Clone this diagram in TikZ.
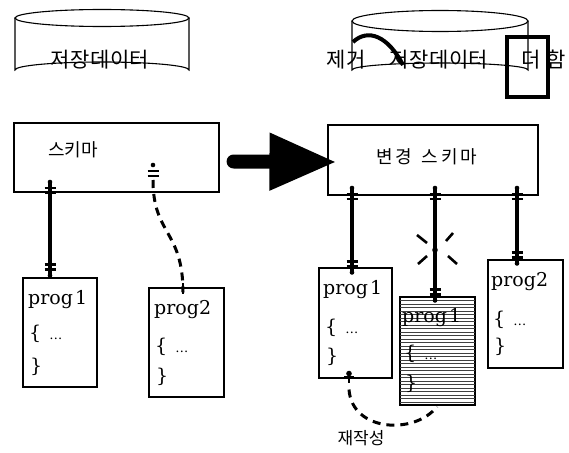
\documentclass[tikz,border=0pt]{standalone}
\usepackage{fontspec}
\setmainfont{DejaVu Serif}
\newfontfamily\kr{Noto Sans CJK KR}
\usetikzlibrary{calc,arrows.meta}
\newcommand\ConnMark[2]{%
  \fill (#1) circle (2.3pt);
  \draw[line width=2.2pt] ($(#1)+(-5.5,#2*6)$) -- ++(11,0);
  \draw[line width=2.2pt] ($(#1)+(-5.5,#2*11)$) -- ++(11,0);}
\begin{document}
\begin{tikzpicture}[x=1pt,y=-1pt,
  box/.style={draw, line width=1.1pt, inner sep=0pt, fill=white},
  hbox/.style={draw, line width=1.1pt, inner sep=0pt},
  conn/.style={line width=3.4pt},
  dconn/.style={line width=3pt, dash pattern=on 8pt off 6pt},
  krt/.style={font=\kr\fontsize{21}{21}\selectfont, inner sep=0pt},
  ptxt/.style={font=\fontsize{19}{19}\selectfont, anchor=west, inner sep=0pt},
  cyl/.style={line width=1.1pt}]
\useasboundingbox (0,0) rectangle (569,452);

% cylinders
\draw[cyl] (102,18) ellipse [x radius=87, y radius=8.5];
\draw[cyl] (15,18) -- (15,70) arc [start angle=180, end angle=360, x radius=87, y radius=8] -- (189,18);
\node[krt] (db1) at (100,60) {저\hspace{0.5pt}장\hspace{0.5pt}데\hspace{0.5pt}이\hspace{0.5pt}터};

\draw[cyl] (440,21) ellipse [x radius=88, y radius=10.5];
\draw[cyl] (352,21) -- (352,70) arc [start angle=180, end angle=360, x radius=88, y radius=7] -- (528,21);
\node[krt] (db2) at (439,60) {저\hspace{0.5pt}장\hspace{0.5pt}데\hspace{0.5pt}이\hspace{0.5pt}터};
\node[krt] (del) at (346,60) {제거};
\draw[line width=4pt] (353,42) .. controls (368,28) and (388,36) .. (403,65);
\draw[line width=3.6pt] (507,37) rectangle (548,97);
\node[krt] (add) at (544,60) {더\hspace{6pt}함};

% schema boxes
\node[box, minimum width=205, minimum height=69] (sch) at (116.5,157.5) {};
\node[krt, font=\kr\fontsize{18}{18}\selectfont] (scht) at (73,150) {스키마};
\node[box, minimum width=210, minimum height=70] (sch2) at (433,160) {};
\node[krt, font=\kr\fontsize{18}{18}\selectfont] (sch2t) at (427,157) {변\hspace{2pt}경\hspace{10pt}스\hspace{3pt}키\hspace{3pt}마};

% big arrow
\draw[line width=14pt, line cap=round, -{Triangle[length=67pt,width=54pt]}]
  ($(sch.east)+(14,4)$) -- ($(sch2.west)+(9,2)$);

% program boxes left
\node[box, minimum width=74, minimum height=109] (p1) at (60,332.5) {};
\node[ptxt] (p1a) at (28,300) {prog\kern2pt 1};
\node[ptxt] (p1b) at (29,334) {\{\hspace{8pt}{\fontsize{13}{13}\selectfont\ldots}};
\node[ptxt] (p1c) at (30,367) {\}};

\node[box, minimum width=75, minimum height=109] (p2) at (186.5,342.5) {};
\node[ptxt] (p2a) at (154,310) {prog2};
\node[ptxt] (p2b) at (155,347) {\{\hspace{8pt}{\fontsize{13}{13}\selectfont\ldots}};
\node[ptxt] (p2c) at (156,377) {\}};

% program boxes right
\node[box, minimum width=73, minimum height=110] (q1) at (355.5,323) {};
\node[ptxt] (q1a) at (323,290) {prog\kern2pt 1};
\node[ptxt] (q1b) at (325,328) {\{\hspace{8pt}{\fontsize{13}{13}\selectfont\ldots}};
\node[ptxt] (q1c) at (326,357) {\}};

\node[hbox, minimum width=75, minimum height=108] (h1) at (437.5,351) {};
\foreach \yy in {300.5,304,...,404} \draw[black!75, line width=0.7pt] (400,\yy) -- (475,\yy);
\node[ptxt] (h1a) at (402,318) {prog\kern2pt 1};
\node[ptxt] (h1b) at (404,354) {\{\hspace{8pt}{\fontsize{13}{13}\selectfont\ldots}};
\node[ptxt] (h1c) at (405,384) {\}};

\node[box, minimum width=75, minimum height=108] (q2) at (525.5,314) {};
\node[ptxt] (q2a) at (491,282) {prog2};
\node[ptxt] (q2b) at (493,320) {\{\hspace{8pt}{\fontsize{13}{13}\selectfont\ldots}};
\node[ptxt] (q2c) at (494,347) {\}};

% connector end points
\coordinate (a1) at (50,182);
\coordinate (a2) at ($(a1 |- p1.north)+(0,-2)$);
\coordinate (b1) at (153,165);
\coordinate (b2) at ($(183,0 |- p2.north)+(0,5)$);
\coordinate (c1) at (352,188);
\coordinate (c2) at ($(c1 |- q1.north)+(0,5)$);
\coordinate (d1) at (435,188);
\coordinate (d2) at ($(d1 |- h1.north)+(0,4)$);
\coordinate (e1) at (517,188);
\coordinate (e2) at ($(e1 |- q2.north)+(0,4)$);
\coordinate (r1) at ($(349,0 |- q1.south)+(0,-5)$);
\coordinate (r2) at ($(437,0 |- h1.south)+(0,1)$);

% connectors
\draw[conn] (a1) -- (a2);
\ConnMark{a1}{1}\ConnMark{a2}{-1}
\draw[dconn] ($(b1)+(0,15)$) .. controls (153,235) and (183,230) .. (b2);
\ConnMark{b1}{1}
\draw[line width=2.4pt] ($(b2)+(0,-9)$) -- ($(b2)+(0,2)$);

\draw[conn] (c1) -- (c2);
\ConnMark{c1}{1}\ConnMark{c2}{-1}
\draw[conn] (d1) -- (d2);
\ConnMark{d1}{1}\ConnMark{d2}{-1}
\fill (435,250) circle (2.8pt);
\draw[line width=2.6pt] (417,235) -- (427,243);
\draw[line width=2.6pt] (453,233) -- (446,241);
\draw[line width=2.6pt] (418,264) -- (427,256);
\draw[line width=2.6pt] (457,264) -- (448,256);
\draw[conn] (e1) -- (e2);
\ConnMark{e1}{1}\ConnMark{e2}{-1}

% rewrite curve
\fill (r1) circle (2.8pt);
\draw[line width=2.4pt] ($(r1)+(-5,4)$) -- ++(10,0);
\draw[line width=2.4pt] ($(r1)+(0,-3)$) -- ($(r1)+(0,9)$);
\draw[dconn] ($(r1)+(0,16)$) .. controls (352,432) and (415,435) .. (r2);
\node[font=\kr\fontsize{17}{17}\selectfont, inner sep=0pt] (rw) at (361,438) {재작성};
\end{tikzpicture}
\end{document}
